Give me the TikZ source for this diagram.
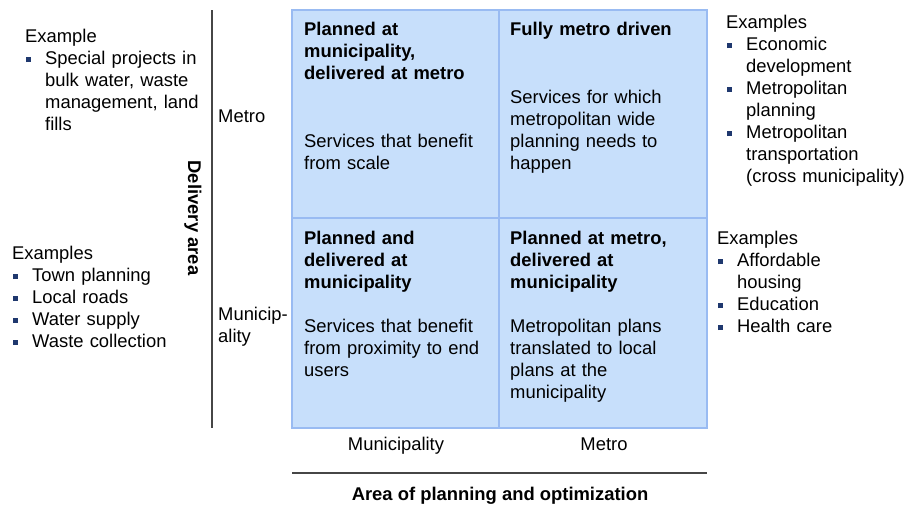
\documentclass[tikz,border=0pt]{standalone}
\usepackage{fontspec}
\setmainfont{Liberation Sans}
\definecolor{cellfill}{RGB}{199,223,251}
\definecolor{cellline}{RGB}{153,187,242}
\definecolor{bulletc}{RGB}{31,56,110}
\definecolor{axisc}{RGB}{70,70,70}
\newcommand{\bul}{\textcolor{bulletc}{\rule[2pt]{5pt}{5pt}}}
\newcommand{\itm}{\par\hangindent=20pt\hangafter=1\noindent\makebox[20pt][l]{\hspace{1pt}\bul}}
\tikzset{
  txt/.style={inner sep=0pt, font=\fontsize{18.4}{22}\selectfont, align=left},
  blk/.style={txt, anchor=north west, text width=#1},
  blk/.default=200pt,
  cell/.style={fill=cellfill, draw=cellline, line width=2pt},
  axisline/.style={draw=axisc, line width=1.3pt},
}
\begin{document}
\begin{tikzpicture}[x=1pt,y=-1pt]
\useasboundingbox (0,0) rectangle (905,506);
% cells
\draw[cell] (292,10) rectangle (499,218);
\draw[cell] (499,10) rectangle (707,218);
\draw[cell] (292,218) rectangle (499,428);
\draw[cell] (499,218) rectangle (707,428);
% cell texts (top = baseline - 15.4)
\node[blk=190pt] (tlh) at (304,19.6) {\strut\textbf{Planned at}\\\textbf{municipality,}\\\textbf{delivered at metro}};
\node[blk=190pt] (tlb) at (304,131.6) {\strut Services that benefit\\from scale};
\node[blk=190pt] (trh) at (510,19.6) {\strut\textbf{Fully metro driven}};
\node[blk=190pt] (trb) at (510,87.6) {\strut Services for which\\metropolitan wide\\planning needs to\\happen};
\node[blk=190pt] (blh) at (304,228.6) {\strut\textbf{Planned and}\\\textbf{delivered at}\\\textbf{municipality}};
\node[blk=190pt] (blb) at (304,316.6) {\strut Services that benefit\\from proximity to end\\users};
\node[blk=190pt] (brh) at (510,228.6) {\strut\textbf{Planned at metro,}\\\textbf{delivered at}\\\textbf{municipality}};
\node[blk=190pt] (brb) at (510,316.6) {\strut Metropolitan plans\\translated to local\\plans at the\\municipality};
% axes
\coordinate (vtop) at (212,10);
\coordinate (vbot) at (212,428);
\draw[axisline] (vtop) -- (vbot);
\coordinate (hl) at (292,473);
\coordinate (hr) at (707,473);
\draw[axisline] (hl) -- (hr);
% axis labels
\node[txt, anchor=base west] (ymetro) at (218,122) {Metro};
\node[blk=80pt] (ymun) at (218,304.6) {\strut Municip-\\ality};
\node[txt, anchor=base] (xmun) at (396,450) {Municipality};
\node[txt, anchor=base] (xmetro) at (604,450) {Metro};
\node[txt, font=\fontsize{18.4}{22}\selectfont\bfseries, rotate=-90] (ytitle) at (193,218) {Delivery area};
\node[txt, font=\fontsize{18.4}{22}\selectfont\bfseries, anchor=base] (xtitle) at (500,500) {Area of planning and optimization};
% example lists
\node[blk=190pt] (exlt) at (25,26.6) {\strut Example\itm Special projects in\newline bulk water, waste\newline management, land\newline fills\par};
\node[blk=190pt] (exlb) at (12,243.6) {\strut Examples\itm Town planning\itm Local roads\itm Water supply\itm Waste collection\par};
\node[blk=190pt] (exrt) at (726,12.6) {\strut Examples\itm Economic\newline development\itm Metropolitan\newline planning\itm Metropolitan\newline transportation\newline (cross municipality)\par};
\node[blk=190pt] (exrb) at (717,228.6) {\strut Examples\itm Affordable\newline housing\itm Education\itm Health care\par};
\end{tikzpicture}
\end{document}
